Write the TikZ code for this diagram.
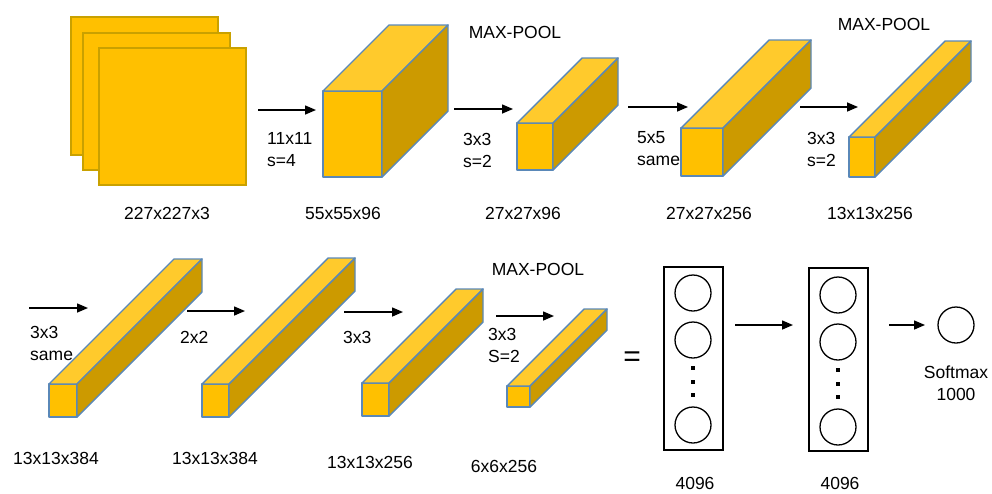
\documentclass[tikz,border=0pt]{standalone}
\usepackage{fontspec}
\setmainfont{Liberation Sans}
\usetikzlibrary{arrows.meta}
\definecolor{frontc}{HTML}{FFC000}
\definecolor{topc}{HTML}{FFCA2C}
\definecolor{sidec}{HTML}{CC9A00}
\definecolor{edgec}{HTML}{5A88B8}
\definecolor{planeedge}{HTML}{C9A100}
\tikzset{
  face/.style={draw=edgec, line width=1.4pt, line join=round},
  plane/.style={draw=planeedge, fill=frontc, line width=1.2pt},
  flow/.style={line width=1.5pt, -{Triangle[length=11pt,width=9pt]}},
  lbl/.style={inner sep=0pt, font=\fontsize{17.5}{22}\selectfont},
  oplbl/.style={lbl, align=left, anchor=west},
  neuron/.style={draw=black, line width=1.3pt, circle, minimum size=36pt, inner sep=0pt},
  fcbox/.style={draw=black, line width=1.4pt},
  fdot/.style={fill=black, minimum size=4pt, inner sep=0pt}
}
% #1 x of front top-left, #2 y, #3 width, #4 height, #5 depth
\newcommand\mycuboid[5]{%
  \fill[face, fill=frontc] (#1,#2) rectangle ({#1+#3},{#2+#4});
  \fill[face, fill=topc] (#1,#2) -- ({#1+#3},#2) -- ({#1+#3+#5},{#2-#5}) -- ({#1+#5},{#2-#5}) -- cycle;
  \fill[face, fill=sidec] ({#1+#3},#2) -- ({#1+#3+#5},{#2-#5}) -- ({#1+#3+#5},{#2+#4-#5}) -- ({#1+#3},{#2+#4}) -- cycle;
}
\begin{document}
\begin{tikzpicture}[x=1pt,y=-1pt]
\useasboundingbox (0,0) rectangle (992,493);
% input planes
\draw[plane] (71,17) rectangle (218,155);
\draw[plane] (83,33) rectangle (230,170);
\draw[plane] (99,48) rectangle (246,185);
\node[lbl] (l0) at (167,213) {227x227x3};
% conv1
\coordinate (a1s) at (258,110); \coordinate (a1e) at (316,110);
\draw[flow] (a1s) -- (a1e);
\node[oplbl] (o1) at (267,150) {11x11\\s=4};
\mycuboid{323}{91}{59}{86}{66}
\node[lbl] (l1) at (343,213) {55x55x96};
\node[lbl] (mp1) at (515,32) {MAX-POOL};
% pool1
\coordinate (a2s) at (454,109); \coordinate (a2e) at (513,109);
\draw[flow] (a2s) -- (a2e);
\node[oplbl] (o2) at (463,150) {3x3\\s=2};
\mycuboid{517}{123}{36}{47}{65}
\node[lbl] (l2) at (523,213) {27x27x96};
% conv2
\coordinate (a3s) at (628,107); \coordinate (a3e) at (688,107);
\draw[flow] (a3s) -- (a3e);
\mycuboid{681}{128}{42}{48}{88}
\node[oplbl] (o3) at (637,149) {5x5\\same};
\node[lbl] (l3) at (709,213) {27x27x256};
% pool2
\coordinate (a4s) at (800,107); \coordinate (a4e) at (858,107);
\draw[flow] (a4s) -- (a4e);
\node[oplbl] (o4) at (807,149) {3x3\\s=2};
\mycuboid{849}{137}{26}{40}{96}
\node[lbl] (l4) at (870,213) {13x13x256};
\node[lbl] (mp2) at (884,24) {MAX-POOL};
% conv3
\coordinate (a5s) at (29,308); \coordinate (a5e) at (88,308);
\draw[flow] (a5s) -- (a5e);
\mycuboid{49}{384}{28}{33}{125}
\node[oplbl] (o5) at (30,343) {3x3\\same};
\node[lbl] (l5) at (56,458) {13x13x384};
% conv4
\coordinate (a6s) at (187,311); \coordinate (a6e) at (245,311);
\draw[flow] (a6s) -- (a6e);
\node[oplbl] (o6) at (180,337) {2x2};
\mycuboid{202}{384}{27}{33}{126}
\node[lbl] (l6) at (215,458) {13x13x384};
% conv5
\coordinate (a7s) at (344,312); \coordinate (a7e) at (403,312);
\draw[flow] (a7s) -- (a7e);
\node[oplbl] (o7) at (343,337) {3x3};
\mycuboid{362}{383}{27}{33}{94}
\node[lbl] (l7) at (370,462) {13x13x256};
\node[lbl] (mp3) at (538,269) {MAX-POOL};
% pool3
\coordinate (a8s) at (496,316); \coordinate (a8e) at (554,316);
\draw[flow] (a8s) -- (a8e);
\node[oplbl] (o8) at (488,345) {3x3\\S=2};
\mycuboid{507}{386}{23}{21}{77}
\node[lbl] (l8) at (504,466) {6x6x256};
% equals
\node[inner sep=0pt, font=\fontsize{30}{30}\selectfont] (eq) at (632,359) {=};
% FC1
\draw[fcbox] (664,267) rectangle (723,450);
\node[neuron] (n11) at (693,293) {};
\node[neuron] (n12) at (693,340) {};
\node[neuron] (n13) at (693,425) {};
\node[fdot, rectangle] (d11) at (693,368) {};
\node[fdot, rectangle] (d12) at (693,382) {};
\node[fdot, rectangle] (d13) at (693,395) {};
\node[lbl] (l9) at (695,483) {4096};
% FC2
\coordinate (a9s) at (735,325); \coordinate (a9e) at (793,325);
\draw[flow] (a9s) -- (a9e);
\draw[fcbox] (809,268) rectangle (868,451);
\node[neuron] (n21) at (838,295) {};
\node[neuron] (n22) at (838,342) {};
\node[neuron] (n23) at (838,427) {};
\node[fdot, rectangle] (d21) at (838,370) {};
\node[fdot, rectangle] (d22) at (838,384) {};
\node[fdot, rectangle] (d23) at (838,397) {};
\node[lbl] (l10) at (840,483) {4096};
% softmax
\coordinate (a10s) at (889,325); \coordinate (a10e) at (925,325);
\draw[flow] (a10s) -- (a10e);
\node[neuron] (sm) at (956,325) {};
\node[lbl, align=center] (l11) at (956,383) {Softmax\\1000};
\end{tikzpicture}
\end{document}
